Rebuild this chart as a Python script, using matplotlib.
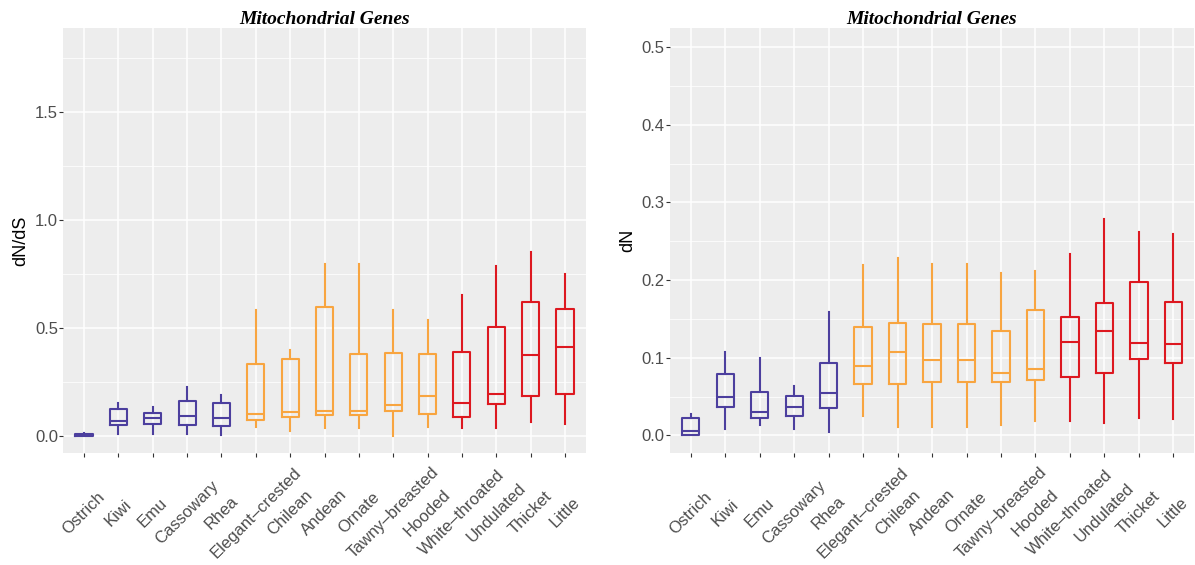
import matplotlib.pyplot as plt
from matplotlib.transforms import ScaledTranslation
import numpy as np

# species, in plotting order
species = ['Ostrich', 'Kiwi', 'Emu', 'Cassowary', 'Rhea', 'Elegant\u2013crested',
           'Chilean', 'Andean', 'Ornate', 'Tawny\u2013breasted', 'Hooded',
           'White\u2013throated', 'Undulated', 'Thicket', 'Little']
group = ['ratite'] * 5 + ['tinamou_a'] * 6 + ['tinamou_b'] * 4

# dN/dS boxplot stats: whisker low, q1, median, q3, whisker high
dnds_lo = [0.0, 0.010, 0.010, 0.010, 0.005, 0.040, 0.025, 0.036, 0.036, 0.002, 0.040, 0.036, 0.036, 0.063, 0.056]
dnds_q1 = [0.002, 0.053, 0.056, 0.051, 0.045, 0.074, 0.090, 0.096, 0.096, 0.115, 0.102, 0.087, 0.146, 0.183, 0.195]
dnds_med = [0.005, 0.068, 0.082, 0.093, 0.084, 0.102, 0.111, 0.118, 0.118, 0.144, 0.183, 0.153, 0.195, 0.376, 0.412]
dnds_q3 = [0.010, 0.125, 0.108, 0.161, 0.153, 0.331, 0.358, 0.598, 0.381, 0.384, 0.381, 0.389, 0.505, 0.621, 0.590]
dnds_hi = [0.015, 0.152, 0.133, 0.229, 0.192, 0.585, 0.396, 0.794, 0.794, 0.582, 0.536, 0.652, 0.788, 0.853, 0.749]

# dN boxplot stats
dn_lo = [0.0, 0.008, 0.013, 0.008, 0.004, 0.025, 0.011, 0.011, 0.011, 0.013, 0.018, 0.019, 0.016, 0.023, 0.021]
dn_q1 = [0.0, 0.036, 0.023, 0.025, 0.035, 0.066, 0.066, 0.069, 0.069, 0.069, 0.071, 0.075, 0.081, 0.099, 0.093]
dn_med = [0.006, 0.049, 0.030, 0.036, 0.054, 0.090, 0.107, 0.097, 0.097, 0.080, 0.085, 0.120, 0.134, 0.119, 0.118]
dn_q3 = [0.023, 0.079, 0.056, 0.051, 0.093, 0.139, 0.145, 0.143, 0.143, 0.135, 0.161, 0.153, 0.171, 0.197, 0.172]
dn_hi = [0.028, 0.107, 0.100, 0.064, 0.159, 0.220, 0.229, 0.221, 0.221, 0.209, 0.212, 0.233, 0.279, 0.262, 0.259]

colors = {'ratite': '#4C3F9E', 'tinamou_a': '#F8A540', 'tinamou_b': '#DD1820'}


def draw_panel(ax, lo, q1, med, q3, hi, ylabel, ylim, major, minor):
    stats = []
    for i in range(len(species)):
        stats.append({'whislo': lo[i], 'q1': q1[i], 'med': med[i],
                      'q3': q3[i], 'whishi': hi[i], 'fliers': []})
    x = np.arange(len(species))
    bp = ax.bxp(stats, positions=x, widths=0.5, showcaps=False,
                showfliers=False, patch_artist=False)
    for i, g in enumerate(group):
        c = colors[g]
        bp['boxes'][i].set(color=c, linewidth=1.5)
        bp['medians'][i].set(color=c, linewidth=1.5)
        bp['whiskers'][2 * i].set(color=c, linewidth=1.5)
        bp['whiskers'][2 * i + 1].set(color=c, linewidth=1.5)

    ax.set_facecolor('#EDEDED')
    for s in ax.spines.values():
        s.set_visible(False)
    ax.set_xlim(-0.6, len(species) - 0.4)
    ax.set_ylim(*ylim)
    ax.set_yticks(major)
    ax.set_yticks(minor, minor=True)
    ax.set_yticklabels(['%.1f' % v for v in major])
    ax.grid(True, which='major', color='white', linewidth=1.1)
    ax.grid(True, which='minor', axis='y', color='white', linewidth=0.55)
    ax.set_axisbelow(True)
    ax.set_xticks(x)
    ax.set_xticklabels(species, rotation=45, ha='center', va='center',
                       rotation_mode='anchor')
    off = ScaledTranslation(3 / 100, 0, ax.figure.dpi_scale_trans)
    for lab in ax.get_xticklabels():
        lab.set_transform(lab.get_transform() + off)
    ax.tick_params(axis='both', which='major', length=3, width=0.8,
                   color='#333333', labelcolor='#4D4D4D', labelsize=12)
    ax.tick_params(axis='y', pad=1)
    ax.tick_params(axis='x', pad=40)
    ax.tick_params(axis='y', which='minor', length=0)
    ax.set_ylabel(ylabel, fontsize=13, color='black', labelpad=4)
    ax.set_title('Mitochondrial Genes', fontsize=14, fontweight='bold',
                 fontstyle='italic', family='Liberation Serif', pad=3)


plt.rcParams['font.family'] = ['Liberation Sans', 'DejaVu Sans']
fig = plt.figure(figsize=(11.95, 5.65), dpi=100)
ax1 = fig.add_axes([0.0531, 0.198, 0.4369, 0.7522])
ax2 = fig.add_axes([0.5607, 0.198, 0.4385, 0.7522])

draw_panel(ax1, dnds_lo, dnds_q1, dnds_med, dnds_q3, dnds_hi, 'dN/dS',
           (-0.079, 1.887), [0.0, 0.5, 1.0, 1.5], [0.25, 0.75, 1.25, 1.75])
draw_panel(ax2, dn_lo, dn_q1, dn_med, dn_q3, dn_hi, 'dN',
           (-0.0228, 0.5245), [0.0, 0.1, 0.2, 0.3, 0.4, 0.5],
           [0.05, 0.15, 0.25, 0.35, 0.45])

fig.savefig('out.png', dpi=100)
